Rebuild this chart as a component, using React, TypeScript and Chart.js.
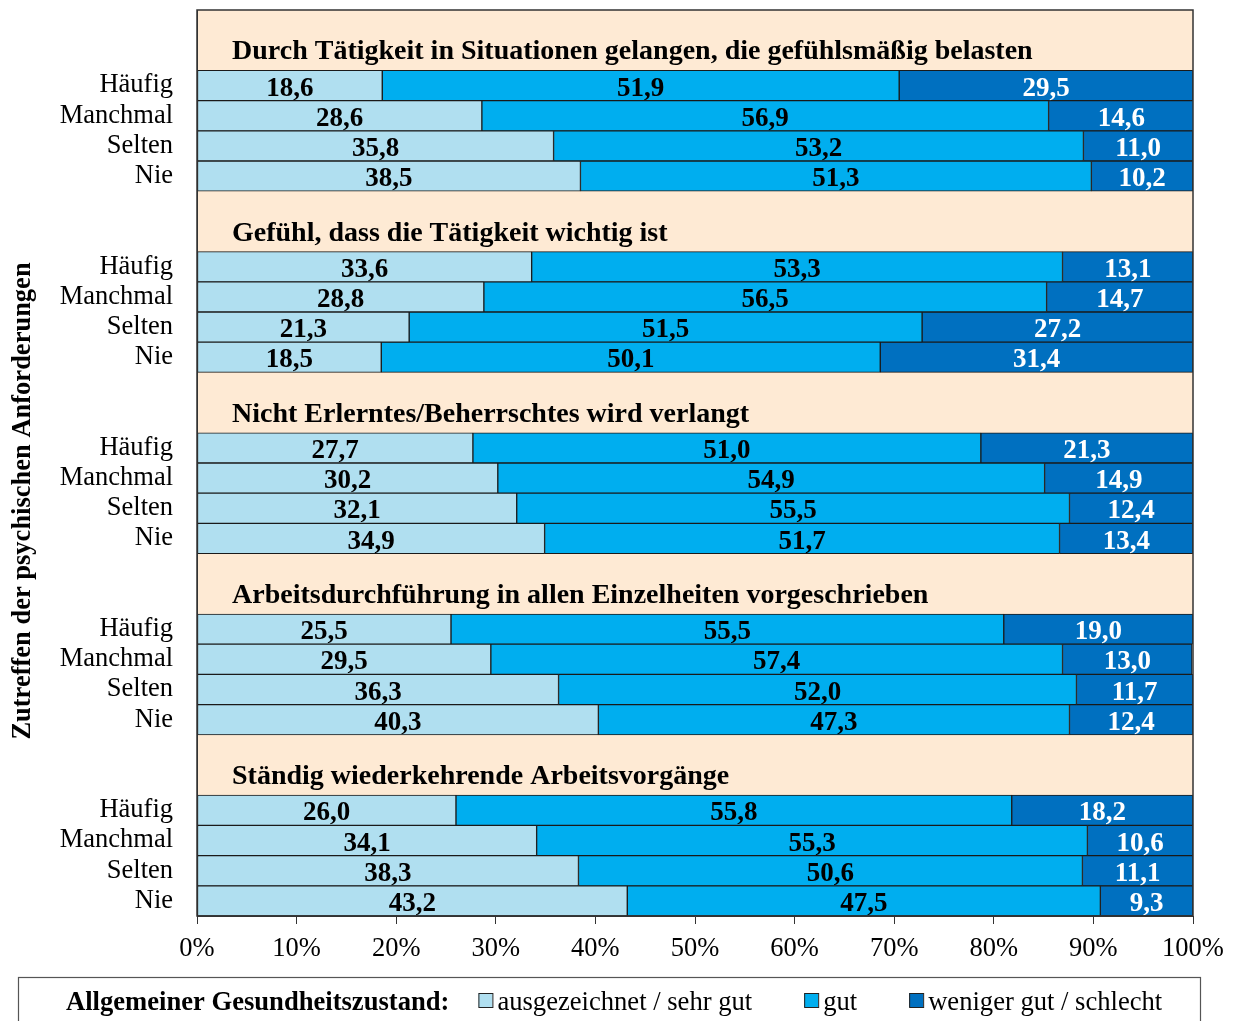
import React, { useEffect, useRef } from 'react';
import { Chart, registerables } from 'chart.js';

Chart.register(...registerables);

const groupTitles = [
  'Durch Tätigkeit in Situationen gelangen, die gefühlsmäßig belasten',
  'Gefühl, dass die Tätigkeit wichtig ist',
  'Nicht Erlerntes/Beherrschtes wird verlangt',
  'Arbeitsdurchführung in allen Einzelheiten vorgeschrieben',
  'Ständig wiederkehrende Arbeitsvorgänge',
];
const frequencies = ['Häufig', 'Manchmal', 'Selten', 'Nie'];

const excellent = [
  18.6, 28.6, 35.8, 38.5,
  33.6, 28.8, 21.3, 18.5,
  27.7, 30.2, 32.1, 34.9,
  25.5, 29.5, 36.3, 40.3,
  26.0, 34.1, 38.3, 43.2,
];
const good = [
  51.9, 56.9, 53.2, 51.3,
  53.3, 56.5, 51.5, 50.1,
  51.0, 54.9, 55.5, 51.7,
  55.5, 57.4, 52.0, 47.3,
  55.8, 55.3, 50.6, 47.5,
];
const poor = [
  29.5, 14.6, 11.0, 10.2,
  13.1, 14.7, 27.2, 31.4,
  21.3, 14.9, 12.4, 13.4,
  19.0, 13.0, 11.7, 12.4,
  18.2, 10.6, 11.1, 9.3,
];

const seriesLabels = ['ausgezeichnet / sehr gut', 'gut', 'weniger gut / schlecht'];
const seriesColors = ['#B0DFF0', '#00AEEF', '#0070C0'];
const labelColors = ['#000000', '#000000', '#FFFFFF'];
const legendTitle = 'Allgemeiner Gesundheitszustand:';
const axisTitle = 'Zutreffen der psychischen Anforderungen';

const FONT = '"Liberation Serif", "Times New Roman", serif';
const PEACH = '#FEEAD4';

// categories: two header slots per group then four frequency rows
const categories: string[] = [];
const headerIndex: number[] = [];
const toRows = (vals: number[]) => {
  const out: (number | null)[] = [];
  groupTitles.forEach((_, g) => {
    out.push(null, null);
    for (let i = 0; i < frequencies.length; i++) out.push(vals[g * 4 + i]);
  });
  return out;
};
groupTitles.forEach((_, g) => {
  headerIndex.push(categories.length + 1);
  categories.push('', '', ...frequencies);
});

const fmt = (v: number) => v.toFixed(1).replace('.', ',');

const decorPlugin = {
  id: 'decor',
  beforeDraw(chart: any) {
    const { ctx, chartArea: a } = chart;
    ctx.save();
    ctx.fillStyle = PEACH;
    ctx.fillRect(a.left, a.top, a.right - a.left, a.bottom - a.top);
    ctx.restore();
  },
  afterDatasetsDraw(chart: any) {
    const { ctx } = chart;
    ctx.save();
    ctx.font = `bold 27px ${FONT}`;
    ctx.textAlign = 'center';
    ctx.textBaseline = 'alphabetic';
    chart.data.datasets.forEach((ds: any, di: number) => {
      const meta = chart.getDatasetMeta(di);
      meta.data.forEach((el: any, i: number) => {
        const v = ds.data[i];
        if (v == null) return;
        const cx = (el.x + el.base) / 2;
        ctx.fillStyle = labelColors[di];
        ctx.fillText(fmt(v), cx, el.y + 10);
      });
    });
    ctx.restore();
  },
  afterDraw(chart: any) {
    const { ctx, chartArea: a } = chart;
    const yScale = chart.scales.y;
    ctx.save();
    // plot border
    ctx.strokeStyle = '#333';
    ctx.lineWidth = 1.5;
    ctx.strokeRect(a.left, a.top, a.right - a.left, a.bottom - a.top);
    // group titles
    ctx.fillStyle = '#000';
    ctx.font = `bold 28px ${FONT}`;
    ctx.textAlign = 'left';
    ctx.textBaseline = 'alphabetic';
    groupTitles.forEach((t, g) => {
      const y = yScale.getPixelForValue(headerIndex[g]);
      ctx.fillText(t, a.left + 35, y + 4);
    });
    // y axis title
    ctx.font = `bold 26.5px ${FONT}`;
    ctx.save();
    ctx.translate(30, 501);
    ctx.rotate(-Math.PI / 2);
    ctx.textAlign = 'center';
    ctx.fillText(axisTitle, 0, 0);
    ctx.restore();
    // legend
    ctx.strokeStyle = '#555';
    ctx.lineWidth = 1.2;
    ctx.strokeRect(18.5, 977.5, 1182, 70);
    const ly = 1010;
    ctx.font = `bold 26.6px ${FONT}`;
    ctx.fillStyle = '#000';
    ctx.fillText(legendTitle, 66, ly);
    let x = 66 + ctx.measureText(legendTitle).width + 29;
    ctx.font = `26.6px ${FONT}`;
    seriesLabels.forEach((lab, i) => {
      ctx.fillStyle = seriesColors[i];
      ctx.fillRect(x, 993, 14, 14);
      ctx.strokeStyle = '#222';
      ctx.lineWidth = 1;
      ctx.strokeRect(x + 0.5, 993.5, 14, 14);
      ctx.fillStyle = '#000';
      ctx.fillText(lab, x + 19, ly);
      x += 19 + ctx.measureText(lab).width + 52;
    });
    ctx.restore();
  },
};

export default function App() {
  const ref = useRef<HTMLCanvasElement | null>(null);
  useEffect(() => {
    if (!ref.current) return;
    const mk = (vals: number[], i: number) => ({
      label: seriesLabels[i],
      data: toRows(vals),
      backgroundColor: seriesColors[i],
      borderColor: '#1a1a1a',
      borderWidth: 1,
      borderSkipped: false,
      barPercentage: 1,
      categoryPercentage: 1,
    });
    const chart = new Chart(ref.current, {
      type: 'bar',
      data: {
        labels: categories,
        datasets: [mk(excellent, 0), mk(good, 1), mk(poor, 2)],
      },
      options: {
        indexAxis: 'y',
        animation: false,
        responsive: false,
        devicePixelRatio: 1,
        layout: { padding: { top: 10, right: 42, left: 0, bottom: 55 } },
        plugins: { legend: { display: false }, tooltip: { enabled: false } },
        scales: {
          x: {
            type: 'linear',
            stacked: true,
            min: 0,
            max: 100,
            afterFit: (s: any) => { s.height = 50; s.paddingLeft = 0; s.paddingRight = 0; },
            ticks: {
              stepSize: 10,
              callback: (v: any) => `${v}%`,
              color: '#000',
              font: { family: FONT, size: 26.5 },
              padding: 9,
              maxRotation: 0,
            },
            grid: { drawOnChartArea: false, drawTicks: true, tickLength: 8, color: '#333' },
            border: { display: true, color: '#333' },
          },
          y: {
            type: 'category',
            stacked: true,
            afterFit: (s: any) => { s.width = 197; s.paddingTop = 0; s.paddingBottom = 0; },
            ticks: {
              autoSkip: false,
              color: '#000',
              font: { family: FONT, size: 26.5 },
              padding: 24,
            },
            grid: { display: false, drawTicks: false },
            border: { display: true, color: '#333' },
          },
        },
      },
      plugins: [decorPlugin],
    });
    return () => chart.destroy();
  }, []);
  return (
    <div style={{ position: 'fixed', left: 0, top: 0, width: 1235, height: 1021, background: '#fff' }}>
      <canvas ref={ref} width={1235} height={1021} style={{ width: 1235, height: 1021 }} />
    </div>
  );
}
